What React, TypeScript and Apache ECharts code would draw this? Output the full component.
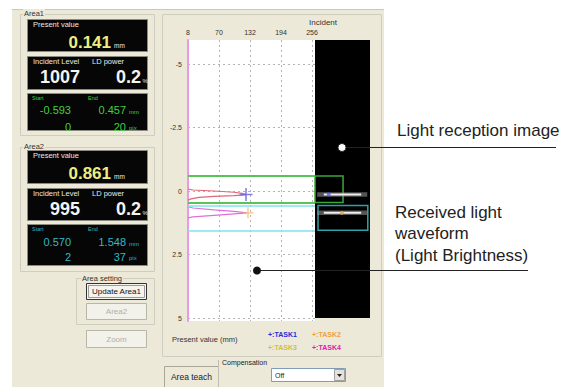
import React, { useEffect, useRef } from "react";
import * as echarts from "echarts";

// ---------- data ----------
const xTickValues = [8, 70, 132, 194, 256];
const yTickValues = [-5, -2.5, 0, 2.5, 5];
const areaNames = ["Area1", "Area2"];
const presentValues = [0.141, 0.861];
const incidentLevels = [1007, 995];
const ldPowers = [0.2, 0.2];
const startMm = [-0.593, 0.57];
const endMm = [0.457, 1.548];
const startPix = [0, 2];
const endPix = [20, 37];
const taskNames = ["TASK1", "TASK2", "TASK3", "TASK4"];
// waveform points: [brightness, position (mm)]
const wave1 = [
  [8, -0.08], [18, -0.04], [60, 0.0], [100, 0.05], [116, 0.09], [124, 0.14],
  [116, 0.16], [100, 0.18], [60, 0.21], [30, 0.25], [14, 0.31], [8, 0.36],
];
const wave2 = [
  [8, 0.62], [18, 0.67], [60, 0.74], [100, 0.8], [126, 0.86],
  [100, 0.9], [60, 0.96], [18, 1.02], [8, 1.06],
];
const taskPeakBrightness = [124, 128];
const imageStreakX = [0.04, 0.95];
const imageStreakCoreX = [0.16, 0.84];
const imageSpotX = [0.25, 0.49];
const imageAreaX = [[0, 0.51], [0.055, 0.96]];

// ---------- styles ----------
const FONT = '"Liberation Sans", Arial, sans-serif';
const BEIGE = "#ece9d8";
const taskColors = ["#2a2ad8", "#f0a040", "#cfc040", "#e020a8"];
const areaTextColors = ["#40d040", "#30b8c8"];
const areaLineColors = ["#58c458", "#80e4ee"];
const areaImageColors = ["#38a838", "#30a0a8"];
const waveColors = ["#e06878", "#e070d8"];
const plusPath = "path://M4.4,0H5.6V4.4H10V5.6H5.6V10H4.4V5.6H0V4.4H4.4Z";

// pixel mapping of the plot
const Y0 = 191;
const PX = 25.4;
const gridTop = 40;
const gridH = 281;
const imgH = 278;
const imgLeft = 315;
const imgW = 55;
const yMin = (gridTop - Y0) / PX;
const yMax = (gridTop + gridH - Y0) / PX;
const yMaxImg = (gridTop + imgH - Y0) / PX;

function txt(x: number, y: number, text: string, size: number, fill: string, opt: any = {}) {
  const align = opt.align ?? "left";
  const va = opt.va ?? "middle";
  const style: any = {
    text,
    fill,
    fontSize: size,
    fontFamily: opt.family ?? FONT,
    fontWeight: opt.weight ?? "normal",
    align,
    verticalAlign: va,
    textAlign: align,
    textVerticalAlign: va,
  };
  if (opt.bg) {
    style.backgroundColor = opt.bg;
    style.padding = [0, 1];
  }
  return { type: "text", x, y, z: opt.z ?? 10, silent: true, style };
}

function rect(x: number, y: number, w: number, h: number, fill: string, stroke?: string, z = -15, lw = 1) {
  return {
    type: "rect",
    z,
    silent: true,
    shape: { x, y, width: w, height: h },
    style: { fill, stroke: stroke ?? "none", lineWidth: lw },
  };
}

function line(x1: number, y1: number, x2: number, y2: number, stroke: string, z = -14, lw = 1) {
  return {
    type: "line",
    z,
    silent: true,
    shape: { x1, y1, x2, y2 },
    style: { stroke, lineWidth: lw },
  };
}

function buildGraphic() {
  const g: any[] = [];
  // window background
  g.push(rect(12, 9, 372, 378, BEIGE, undefined, -20));
  g.push(line(12, 9.5, 384, 9.5, "#b8c8e8", -19));

  // group boxes
  g.push(rect(20.5, 14.5, 134, 121, "none", "#cfcdbf"));
  g.push(rect(20.5, 147.5, 134, 124, "none", "#cfcdbf"));
  g.push(rect(76.5, 278.5, 78, 46, "none", "#cfcdbf"));
  g.push(rect(162.5, 14.5, 219, 342, "none", "#cfcdbf"));
  g.push(txt(23, 13, areaNames[0], 7.5, "#333", { bg: BEIGE }));
  g.push(txt(23, 146, areaNames[1], 7.5, "#333", { bg: BEIGE }));
  g.push(txt(81, 278, "Area setting", 7.5, "#333", { bg: BEIGE }));

  // area panels
  const boxTops = [[19, 56, 93], [150, 188, 224]];
  const boxHs = [[32, 33, 37], [33, 32, 41]];
  for (let i = 0; i < 2; i++) {
    const [t1, t2, t3] = boxTops[i];
    const [h1, h2, h3] = boxHs[i];
    g.push(rect(27.5, t1 + 0.5, 120, h1, "#060606", "#8a8a80", -12));
    g.push(rect(27.5, t2 + 0.5, 120, h2, "#060606", "#8a8a80", -12));
    g.push(rect(27.5, t3 + 0.5, 120, h3, "#060606", "#8a8a80", -12));
    // present value
    g.push(txt(33, t1 + 5.5, "Present value", 7.5, "#e8e8e8"));
    g.push(txt(111, t1 + 23, presentValues[i].toFixed(3), 17, "#eeee80", { align: "right", weight: "bold" }));
    g.push(txt(114, t1 + 26, "mm", 6.5, "#e8e8e8"));
    // incident / LD
    g.push(txt(33, t2 + 5.5, "Incident Level", 7.5, "#e8e8e8"));
    g.push(txt(92, t2 + 5.5, "LD power", 7.5, "#e8e8e8"));
    g.push(txt(80, t2 + 21, String(incidentLevels[i]), 18, "#f4f4f4", { align: "right", weight: "bold" }));
    g.push(txt(141, t2 + 21, ldPowers[i].toFixed(1), 18, "#f4f4f4", { align: "right", weight: "bold" }));
    g.push(txt(142.5, t2 + 25, "%", 6, "#e8e8e8"));
    // start / end
    const c = areaTextColors[i];
    const r1 = i === 0 ? 17 : 18;
    const r2 = i === 0 ? 34 : 33;
    g.push(txt(32, t3 + 4.5, "Start", 5.5, c));
    g.push(txt(88, t3 + 4.5, "End", 5.5, c));
    g.push(txt(71, t3 + r1, startMm[i].toFixed(3), 11, c, { align: "right" }));
    g.push(txt(126, t3 + r1, endMm[i].toFixed(3), 11, c, { align: "right" }));
    g.push(txt(129, t3 + r1 + 2, "mm", 6, c));
    g.push(txt(71, t3 + r2, String(startPix[i]), 11, c, { align: "right" }));
    g.push(txt(126, t3 + r2, String(endPix[i]), 11, c, { align: "right" }));
    g.push(txt(129, t3 + r2 + 1, "pix", 6, c));
  }

  // buttons
  g.push(rect(86.5, 283.5, 60, 16, "#f5f4ef", "#333", -12));
  g.push(rect(88.5, 285.5, 56, 12, "none", "#9a9a9a", -11));
  g.push(txt(116.5, 291.5, "Update Area1", 8, "#111", { align: "center" }));
  g.push(rect(86.5, 303.5, 60, 16, "#f2f1ea", "#b8b6a8", -12));
  g.push(txt(116.5, 311.5, areaNames[1], 8, "#b0b0a8", { align: "center" }));
  g.push(rect(86.5, 330.5, 60, 17, "#f2f1ea", "#b8b6a8", -12));
  g.push(txt(116.5, 339, "Zoom", 8, "#b0b0a8", { align: "center" }));

  // chart texts
  g.push(txt(323, 22, "Incident", 8, "#333", { align: "center" }));
  g.push(txt(172, 339, "Present value (mm)", 7.5, "#333"));
  const legPos = [[268, 334], [312, 334], [268, 347], [312, 347]];
  for (let k = 0; k < 4; k++) {
    g.push(txt(legPos[k][0], legPos[k][1], "+:" + taskNames[k], 7, taskColors[k], { weight: "bold" }));
  }

  // bottom tab and compensation
  g.push(rect(164.5, 366.5, 54, 21, BEIGE, "#a8a698", -12));
  g.push(txt(191.5, 377, "Area teach", 8.5, "#222", { align: "center" }));
  g.push(line(218.5, 360, 218.5, 387, "#c0beb0", -12));
  g.push(txt(222, 362, "Compensation", 7, "#222"));
  g.push(rect(271.5, 368.5, 74, 13, "#ffffff", "#7f9db9", -12));
  g.push(txt(275, 375, "Off", 7, "#222"));
  g.push(rect(334.5, 369.5, 10, 11, "#e4e2da", "#a0a0a0", -11));
  g.push({
    type: "polygon",
    z: -10,
    silent: true,
    shape: { points: [[337, 374], [342, 374], [339.5, 377]] },
    style: { fill: "#222" },
  });

  // callouts
  g.push(txt(397, 130, "Light reception image", 17, "#222"));
  g.push(line(342, 147.5, 556, 147.5, "#222", 10, 1));
  g.push({ type: "circle", z: 11, silent: true, shape: { cx: 342, cy: 147.5, r: 4 }, style: { fill: "#fff", stroke: "#222", lineWidth: 1 } });
  g.push(txt(395, 212, "Received light", 17, "#222"));
  g.push(txt(395, 233, "waveform", 17, "#222"));
  g.push(txt(395, 255, "(Light Brightness)", 17, "#222"));
  g.push(line(257, 270.5, 528, 270.5, "#222", 10, 1));
  g.push({ type: "circle", z: 11, silent: true, shape: { cx: 257, cy: 270.5, r: 4 }, style: { fill: "#111" } });
  return g;
}

export default function App() {
  const ref = useRef<HTMLDivElement>(null);
  useEffect(() => {
    if (!ref.current) return;
    const chart = echarts.init(ref.current, undefined, { renderer: "svg" });
    const streak = (xs: number[], p: number, color: string, width: number, z: number, extra: any = {}) => ({
      type: "line",
      xAxisIndex: 1,
      yAxisIndex: 1,
      symbol: "none",
      silent: true,
      z,
      data: [[xs[0], p], [xs[1], p]],
      lineStyle: { color, width, cap: "butt" },
      ...extra,
    });
    const option: any = {
      animation: false,
      backgroundColor: "#ffffff",
      textStyle: { fontFamily: FONT },
      grid: [
        { left: 188, top: gridTop, width: 127, height: gridH, show: true, backgroundColor: "#ffffff", borderWidth: 0 },
        { left: imgLeft, top: gridTop, width: imgW, height: imgH, show: true, backgroundColor: "#000000", borderWidth: 0 },
      ],
      xAxis: [
        {
          gridIndex: 0,
          type: "value",
          position: "top",
          min: 8,
          max: 262,
          axisLine: { show: false },
          axisTick: { show: false, customValues: xTickValues },
          axisLabel: { customValues: xTickValues, fontSize: 7, color: "#333", margin: 4, fontFamily: FONT },
          splitLine: { show: true, lineStyle: { color: "#b4b4b4", type: [2, 3], width: 1 } },
        },
        { gridIndex: 1, type: "value", min: 0, max: 1, show: false },
      ],
      yAxis: [
        {
          gridIndex: 0,
          type: "value",
          inverse: true,
          min: yMin,
          max: yMax,
          axisLine: { show: true, onZero: false, lineStyle: { color: "#e89ae8", width: 2 } },
          axisTick: { show: false, customValues: yTickValues },
          axisLabel: {
            customValues: yTickValues,
            fontSize: 7,
            color: "#333",
            margin: 6,
            fontFamily: FONT,
            formatter: (v: number) => String(v),
          },
          splitLine: { show: true, lineStyle: { color: "#b4b4b4", type: [2, 3], width: 1 } },
        },
        { gridIndex: 1, type: "value", inverse: true, min: yMin, max: yMaxImg, show: false },
      ],
      series: [
        ...[wave1, wave2].map((w, i) => ({
          type: "line",
          xAxisIndex: 0,
          yAxisIndex: 0,
          data: w,
          symbol: "none",
          silent: true,
          z: 3,
          lineStyle: { color: waveColors[i], width: 1.2 },
          markLine: {
            silent: true,
            symbol: "none",
            label: { show: false },
            lineStyle: { color: areaLineColors[i], width: i === 0 ? 2 : 1.5, type: "solid" },
            data: [{ yAxis: startMm[i] }, { yAxis: endMm[i] }],
          },
        })),
        ...presentValues.map((p, i) => ({
          type: "scatter",
          xAxisIndex: 0,
          yAxisIndex: 0,
          symbol: plusPath,
          symbolSize: i === 0 ? 13 : 11,
          silent: true,
          z: 4,
          itemStyle: { color: i === 0 ? "#6060e0" : "#f2b468" },
          data: [[taskPeakBrightness[i], p]],
        })),
        // streak halo with area frames
        ...presentValues.map((p, i) =>
          streak(imageStreakX, p, "rgba(140,140,140,0.6)", 4.5, 2, {
            markArea: {
              silent: true,
              itemStyle: { color: "rgba(0,0,0,0)", borderColor: areaImageColors[i], borderWidth: 1.5 },
              data: [[
                { xAxis: imageAreaX[i][0], yAxis: startMm[i] },
                { xAxis: imageAreaX[i][1], yAxis: endMm[i] },
              ]],
            },
          })
        ),
        // streak bright core
        ...presentValues.map((p) => streak(imageStreakCoreX, p, "#eeeeee", 2, 3)),
        ...presentValues.map((p, i) => ({
          type: "scatter",
          xAxisIndex: 1,
          yAxisIndex: 1,
          symbol: "circle",
          symbolSize: 4,
          silent: true,
          z: 5,
          itemStyle: { color: i === 0 ? "#4060ff" : "#e8a040" },
          data: [[imageSpotX[i], p]],
        })),
      ],
      graphic: buildGraphic(),
    };
    chart.setOption(option);
    return () => chart.dispose();
  }, []);
  return <div ref={ref} style={{ position: "absolute", left: 0, top: 0, width: 562, height: 387 }} />;
}
